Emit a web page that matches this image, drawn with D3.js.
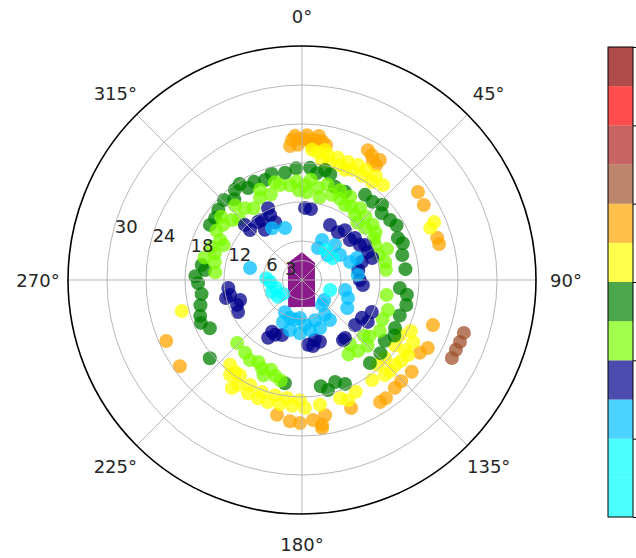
<!DOCTYPE html>
<html>
<head>
<meta charset="utf-8">
<script src="https://cdn.jsdelivr.net/npm/d3@7/dist/d3.min.js"></script>
<style>
  body { margin: 0; background: #fff; }
  svg { display: block; }
  text { font-family: "DejaVu Sans", sans-serif; font-size: 18px; fill: #262626; }
</style>
</head>
<body>
<div id="mydiv"></div>
<script>
// colour level of each group of points (drawn in this order)
var groupLevel = [25.5, 22.5, 19.5, 16.5, 13.5, 10.5, 7.5, 4.5];

// angle in degrees, clockwise from north
var groupTheta = [
  [108.1, 111.4, 114.4, 117.5],
  [355.9, 358.4, 0.8, 3.3, 5.7, 8.2, 358.3, 4.3, 357.2, 2, 6.7, 10.1, 354.9,
   29.2, 32.8, 30.7, 33, 26.9, 52.8, 58.4, 72.7, 75.3,
   109, 118.4, 121.7, 129.9, 135.6, 139.3, 144.6, 147.4,
   190.5, 184.9, 180.8, 175.5, 172.1, 170.3, 159, 172.3, 245.8, 234.8],
  [7.1, 11.8, 16.4, 21.3, 26, 30.2, 35.4, 13.5, 21.4, 9.5,
   4.4, 10, 18.3, 24.4, 30, 35.5, 40.5, 67.9, 66.3,
   115.1, 119.2, 129.3, 125, 135.9, 133.2, 124.2, 138.2,
   119.3, 125.3, 132.4, 138.9, 145, 154.3,
   217.2, 211.4, 205.5, 200.4, 195.6, 190.1, 184.5, 178.7, 213.1, 220.3, 162.1, 159, 171.8, 255.5,
   216, 206.3, 199.7, 193.2, 187.2, 181, 213],
  [329.6, 351, 4.1, 11.8, 19.5, 36.5, 46.8, 55.7, 66.4, 76, 94.7, 103.5, 117.3, 126.3, 140.7,
   157.5, 166.7, 189.4, 229.7, 242.4, 250.6, 268.3, 278.5, 305.5, 315.7, 323.3, 339.7, 26, 275.9, 300.9,
   310, 320, 327, 334, 344, 357, 8, 15, 42, 50, 60, 70, 84, 98, 110, 121, 133, 162, 170,
   262, 272, 256, 247],
  [344.6, 352.8, 1.8, 9.9, 19.4, 29.8, 39.2, 50.5, 64.4, 77.8, 109.2, 123.2, 141.7, 143.1,
   213, 204.4, 195.7, 225.9, 281.7, 296, 310.6, 321.6, 332.9, 22.9, 38.9,
   5, 15, 30, 45, 57, 70, 335, 318, 300, 290,
   340, 347, 357, 358, 3, 12, 25, 34, 44, 52, 60, 72, 83, 326, 314, 305, 287, 294, 308,
   100, 116, 130, 135, 132, 148, 208, 199, 218, 192, 202, 275, 283],
  [314, 322.8, 333.8, 323.5, 2.4, 27, 36.9, 50.2, 58.9, 67, 79.9, 94.7, 122.3, 122.5, 145.7,
   163.8, 174.7, 206.1, 210.4, 258.2, 249, 263.8, 243.4, 130.3, 167.8,
   313.9, 326.3, 335, 334.7, 7.2, 40.7, 51.6, 60.9, 72.6, 73.3, 90, 114.6, 143.4,
   210, 200, 170.5, 256.7, 252.1],
  [330, 341.9, 283, 26.6, 46.1, 43.3, 69.4, 84.9, 111.4, 121.9, 208, 189.9, 176.2, 162, 146.7,
   141.3, 132.3, 193.5, 182.2, 68.2, 197.5, 183, 170.9, 159.4, 145, 204.3, 26.6, 56.7, 103],
  [266.4, 252.9, 233.6, 38.7, 54.6, 109.7, 273, 248.2, 234.7]
];

var groupR = [
  [26.2, 26.1, 26, 26],
  [21.6, 21.7, 21.7, 21.6, 21.6, 21.6, 20.8, 20.7, 22.2, 22.3, 22.3, 21.1, 20.7,
   22, 21, 21.3, 22, 22.4, 22.4, 22, 21.8, 21.8,
   21.3, 22, 21.3, 22, 21.8, 21.9, 22.3, 22.3,
   21.1, 21.8, 22, 21.6, 22.5, 21.1, 21.1, 23, 22.9, 23],
  [19.8, 19.6, 19.6, 19.5, 19.7, 19.6, 19.6, 18.5, 18.2, 18.7,
   20.1, 20.3, 18.6, 18.6, 18.5, 18.5, 19.2, 21.3, 22.2,
   18.5, 19.6, 19.7, 17.5, 19.5, 17.5, 19.2, 17.5,
   17.3, 20, 19.4, 19.4, 18.8, 19.1,
   18.3, 18.9, 19.3, 19.4, 19.5, 19.4, 19.4, 19.7, 17.5, 17.1, 19.1, 19.8, 19.4, 19.1,
   17.5, 18, 18.3, 18.2, 18.3, 18.5, 19.8],
  [16.4, 16.7, 17.3, 17.3, 15.2, 16.3, 16.9, 16.4, 16.1, 15.9, 15.1, 16.5, 16.1, 15.8, 16.5,
   17.3, 17.4, 16.1, 18.6, 16, 16.6, 16, 15.6, 16.4, 17.2, 17.3, 16.4, 15.1, 15, 16.5,
   16.8, 16.2, 17.6, 16.8, 17, 17.2, 16.6, 16.8, 16.2, 16, 16.8, 16.5, 16, 16.3, 16, 16.6, 16.5, 16.5, 16.6,
   15.6, 16.4, 16.1, 16.9],
  [15.6, 14.7, 14.6, 14.4, 13.9, 13.3, 12.9, 12.6, 12.5, 13.1, 14, 14.3, 13.9, 12.3,
   14.7, 14.9, 15.3, 13.9, 13.7, 14, 14.2, 14.1, 14.2, 15, 14.2,
   15.5, 15.2, 14.8, 13.8, 13.5, 13.9, 15.3, 15.4, 15.2, 14.8,
   14, 15, 15.2, 13.8, 13.5, 13, 13.8, 13.6, 12.3, 13.8, 12.8, 12.4, 13, 13.3, 13.5, 14.8, 14, 13.2, 15.8,
   13.2, 13.8, 13.5, 14.3, 12.8, 13.5, 14.3, 14.6, 14.2, 15.8, 15.8, 13.4, 15.4],
  [12.2, 11.2, 11.1, 9.6, 11.1, 9.5, 9.2, 9.6, 10.4, 11, 8.8, 9.4, 10.9, 12, 11.2,
   9.9, 10, 9.4, 10.3, 11.3, 10.7, 11.4, 11, 10.7, 9.4,
   11.1, 11.1, 9.8, 12.2, 11, 10.1, 10.4, 11.1, 11.3, 9.6, 8.9, 11.8, 11.1,
   9.2, 9, 10.3, 12, 10],
  [9.2, 8.4, 8.2, 5.5, 5.5, 7.4, 7.9, 8.6, 7.6, 8.2, 5.6, 6.2, 6.9, 6.5, 6.4,
   4.9, 4.6, 7.9, 8.2, 9.1, 6.1, 5.85, 7.8, 7.9, 7.5, 7.1, 6.9, 7, 6.8],
  [4.9, 4.2, 3.6, 5.9, 5.8, 4.6, 5.5, 5, 4.5]
];

// purple patch in the middle
var coreTheta = [0, 37, 154, 207, 320];
var coreR = [4.3, 3.3, 4.6, 4.7, 3.4];

var rTicks = [3, 6, 12, 18, 24, 30];
var thetaTicks = [0, 45, 90, 135, 180, 225, 270, 315];
var rMax = 36;

var levelBounds = [3, 6, 9, 12, 15, 18, 21, 24, 27, 30, 33];
var levelColors = ["cyan", "cyan", "deepskyblue", "darkblue", "lawngreen", "green",
                   "yellow", "orange", "sienna", "firebrick", "red", "darkred"];
var cbarTicks = [0, 6, 12, 18, 24, 30, 36];

var width = 636, height = 558;
var cx = 302, cy = 280, outer = 234;

var svg = d3.select("#mydiv").append("svg")
  .attr("width", width)
  .attr("height", height);

var r = d3.scaleLinear().domain([0, rMax]).range([0, outer]);
var ang = d3.scaleLinear().domain([0, 360]).range([0, 2 * Math.PI]);
var color = d3.scaleThreshold().domain(levelBounds).range(levelColors);

var g = svg.append("g").attr("transform", "translate(" + cx + "," + cy + ")");

var points = [];
groupLevel.forEach(function(lv, k) {
  groupTheta[k].forEach(function(t, i) {
    points.push({theta: t, r: groupR[k][i], level: lv});
  });
});

// core shape
var coreLine = d3.lineRadial()
  .angle(function(d) { return ang(d[0]); })
  .radius(function(d) { return r(d[1]); })
  .curve(d3.curveLinearClosed);
g.append("path")
  .attr("d", coreLine(coreTheta.map(function(t, i) { return [t, coreR[i]]; })))
  .attr("fill", "purple")
  .attr("fill-opacity", 0.9);

g.selectAll(".pt")
  .data(points)
  .enter().append("circle")
  .attr("class", "pt")
  .attr("cx", function(d) { return d3.pointRadial(ang(d.theta), r(d.r))[0]; })
  .attr("cy", function(d) { return d3.pointRadial(ang(d.theta), r(d.r))[1]; })
  .attr("r", 7)
  .attr("fill", function(d) { return color(d.level); })
  .attr("fill-opacity", 0.75);

// grid on top of the points
g.selectAll(".ring")
  .data(rTicks)
  .enter().append("circle")
  .attr("class", "ring")
  .attr("r", function(d) { return r(d); })
  .attr("fill", "none")
  .attr("stroke", "#b0b0b0")
  .attr("stroke-opacity", 0.9)
  .attr("stroke-width", 1);

g.selectAll(".spoke")
  .data(thetaTicks)
  .enter().append("line")
  .attr("class", "spoke")
  .attr("x1", 0).attr("y1", 0)
  .attr("x2", function(d) { return d3.pointRadial(ang(d), r(rMax))[0]; })
  .attr("y2", function(d) { return d3.pointRadial(ang(d), r(rMax))[1]; })
  .attr("stroke", "#b0b0b0")
  .attr("stroke-opacity", 0.9)
  .attr("stroke-width", 1);

g.append("circle")
  .attr("r", r(rMax))
  .attr("fill", "none")
  .attr("stroke", "#000")
  .attr("stroke-width", 1.6);

// angle labels
g.selectAll(".tlab")
  .data(thetaTicks)
  .enter().append("text")
  .attr("class", "tlab")
  .attr("x", function(d) { return d3.pointRadial(ang(d), r(rMax) + 30)[0]; })
  .attr("y", function(d) { return d3.pointRadial(ang(d), r(rMax) + 30)[1]; })
  .attr("text-anchor", "middle")
  .attr("dominant-baseline", "central")
  .text(function(d) { return d + "\u00b0"; });

// radial labels
var rLabelAngle = 284;
g.selectAll(".rlab")
  .data(rTicks)
  .enter().append("text")
  .attr("class", "rlab")
  .attr("x", function(d) { return d3.pointRadial(ang(rLabelAngle), r(d))[0] + 2; })
  .attr("y", function(d) { return d3.pointRadial(ang(rLabelAngle), r(d))[1]; })
  .attr("text-anchor", "start")
  .text(function(d) { return d; });

// colorbar (its tick labels fall outside the window)
var cbX = 608, cbW = 25;
var cbY = d3.scaleLinear().domain([0, rMax]).range([517, 47]);
var cb = svg.append("g");
cb.selectAll(".seg")
  .data(levelColors)
  .enter().append("rect")
  .attr("class", "seg")
  .attr("x", cbX)
  .attr("width", cbW)
  .attr("y", function(d, i) { return cbY((i + 1) * 3); })
  .attr("height", function(d, i) { return cbY(i * 3) - cbY((i + 1) * 3); })
  .attr("fill", function(d) { return d; })
  .attr("fill-opacity", 0.7);
cb.append("rect")
  .attr("x", cbX).attr("y", cbY(rMax))
  .attr("width", cbW).attr("height", cbY(0) - cbY(rMax))
  .attr("fill", "none")
  .attr("stroke", "#000")
  .attr("stroke-width", 1);
cb.append("g")
  .attr("transform", "translate(" + (cbX + cbW) + ",0)")
  .call(d3.axisRight(cbY).tickValues(cbarTicks).tickSize(4).tickFormat(""))
  .call(function(a) { a.select(".domain").remove(); });
</script>
</body>
</html>
